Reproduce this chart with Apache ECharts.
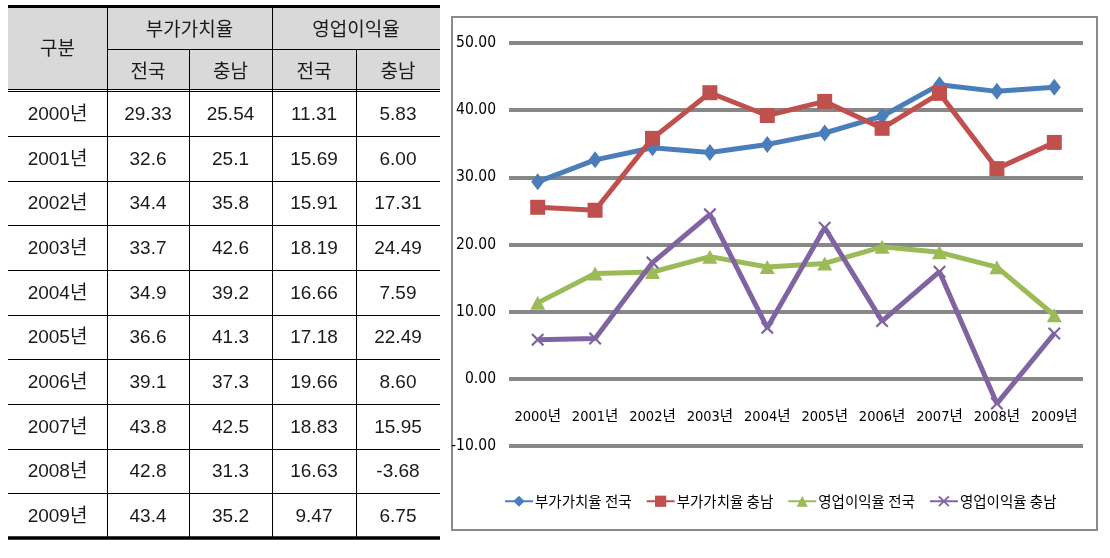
<!DOCTYPE html>
<html>
<head>
<meta charset="utf-8">
<script src="https://cdn.jsdelivr.net/npm/echarts@6/dist/echarts.min.js"></script>
<style>
html,body{margin:0;padding:0;background:#fff;}
#main{width:1110px;height:558px;}
</style>
</head>
<body>
<div id="main"></div>
<script>
// ---- data ----
const years = ['2000년','2001년','2002년','2003년','2004년','2005년','2006년','2007년','2008년','2009년'];
const vaNational = ['29.33','32.6','34.4','33.7','34.9','36.6','39.1','43.8','42.8','43.4'];
const vaChungnam = ['25.54','25.1','35.8','42.6','39.2','41.3','37.3','42.5','31.3','35.2'];
const opNational = ['11.31','15.69','15.91','18.19','16.66','17.18','19.66','18.83','16.63','9.47'];
const opChungnam = ['5.83','6.00','17.31','24.49','7.59','22.49','8.60','15.95','-3.68','6.75'];
const seriesNames = ['부가가치율 전국','부가가치율 충남','영업이익율 전국','영업이익율 충남'];
const headerGroups = ['부가가치율','영업이익율'];
const headerSub = ['전국','충남','전국','충남'];
const headerFirst = '구분';
const yMin = -10, yMax = 50, yInterval = 10;

// ---- table layout (graphic) ----
const colX = [8,107,189,272,356,440];
const tTop = 6.5, hMid = 49.5, hBot = 89.5, rowTop = 91.5, rowH = 44.65;
const tBottom = rowTop + rowH * years.length;
const tableFont = '"Liberation Sans", Arial, sans-serif';
const korFont = '"Noto Sans CJK KR", sans-serif';
const g = [];
function line(x1,y1,x2,y2,w){ g.push({type:'line',silent:true,shape:{x1,y1,x2,y2},style:{stroke:'#000',lineWidth:w||1}}); }
function txt(s,x,y,size,fam){ g.push({type:'text',silent:true,style:{text:s,x,y,fill:'#1a1a1a',font:size+'px '+fam,align:'center',verticalAlign:'middle',textAlign:'center',textVerticalAlign:'middle'}}); }
g.push({type:'rect',silent:true,shape:{x:colX[0],y:tTop,width:colX[5]-colX[0],height:hBot-tTop},style:{fill:'#d9d9d9'}});
line(colX[0],tTop,colX[5],tTop,3);
line(colX[1],hMid,colX[5],hMid,1);
line(colX[0],hBot,colX[5],hBot,1);
line(colX[0],rowTop,colX[5],rowTop,1);
for(let i=1;i<years.length;i++){ const y=Math.round(rowTop+rowH*i)+0.5; line(colX[0],y,colX[5],y,1); }
line(colX[0],tBottom,colX[5],tBottom,3.5);
// verticals
line(colX[1]+0.5,tTop,colX[1]+0.5,tBottom,1);
line(colX[3]+0.5,tTop,colX[3]+0.5,tBottom,1);
line(colX[2]+0.5,hMid,colX[2]+0.5,tBottom,1);
line(colX[4]+0.5,hMid,colX[4]+0.5,tBottom,1);
// header text
txt(headerFirst,(colX[0]+colX[1])/2,(tTop+hBot)/2,19,korFont);
txt(headerGroups[0],(colX[1]+colX[3])/2,(tTop+hMid)/2+1,19,korFont);
txt(headerGroups[1],(colX[3]+colX[5])/2,(tTop+hMid)/2+1,19,korFont);
headerSub.forEach((s,i)=>txt(s,(colX[i+1]+colX[i+2])/2,(hMid+hBot)/2+1,19,korFont));
const cols = [vaNational,vaChungnam,opNational,opChungnam];
years.forEach((yr,r)=>{
  const cy = rowTop + rowH*(r+0.5) + 1;
  txt(yr,(colX[0]+colX[1])/2,cy,19,tableFont+', '+korFont);
  cols.forEach((c,i)=>txt(c[r],(colX[i+1]+colX[i+2])/2,cy,19,tableFont));
});
// chart frame
g.push({type:'rect',silent:true,shape:{x:452,y:17,width:645,height:513},style:{fill:'none',stroke:'#8a8a8a',lineWidth:2}});

const narrow = '"Liberation Sans Narrow", "DejaVu Sans Condensed", "Noto Sans CJK KR", sans-serif';
const xSymbol = 'path://M0,1.2 L1.2,0 L5,3.8 L8.8,0 L10,1.2 L6.2,5 L10,8.8 L8.8,10 L5,6.2 L1.2,10 L0,8.8 L3.8,5 Z';
const colors = ['#4a7ebb','#c0504d','#9bbb59','#8064a2'];
const symbols = ['diamond','rect','triangle',xSymbol];
const sizes = [[13,17],[15,15],[15,14],[13,13]];
const dataSets = [vaNational,vaChungnam,opNational,opChungnam];

const chart = echarts.init(document.getElementById('main'),null,{renderer:'canvas'});
chart.setOption({
  animation:false,
  backgroundColor:'#fff',
  graphic:{elements:g},
  color:colors,
  grid:{left:509,right:27,top:43,bottom:112,containLabel:false},
  legend:{
    left:499, top:489, itemWidth:28, itemHeight:14, itemGap:14,
    data:seriesNames,
    textStyle:{fontSize:14.5,fontFamily:korFont,color:'#000',padding:[0,0,0,-3]}
  },
  xAxis:{
    type:'category', data:years, boundaryGap:true, position:'bottom',
    axisLine:{show:false}, axisTick:{show:false},
    axisLabel:{margin:-29,verticalAlign:'middle',fontSize:14.5,fontFamily:narrow,color:'#000',interval:0}
  },
  yAxis:{
    type:'value', min:yMin, max:yMax, interval:yInterval,
    axisLine:{show:false}, axisTick:{show:false},
    axisLabel:{margin:13,fontSize:15.5,fontFamily:narrow,color:'#000',formatter:v=>v.toFixed(2)},
    splitLine:{lineStyle:{color:'#878787',width:4}}
  },
  series:seriesNames.map((n,i)=>({
    name:n, type:'line', data:dataSets[i].map(Number),
    symbol:symbols[i], symbolSize:sizes[i], showAllSymbol:true,
    lineStyle:{width:5,color:colors[i]}, itemStyle:{color:colors[i]},
    z:2+i
  }))
});
</script>
</body>
</html>
